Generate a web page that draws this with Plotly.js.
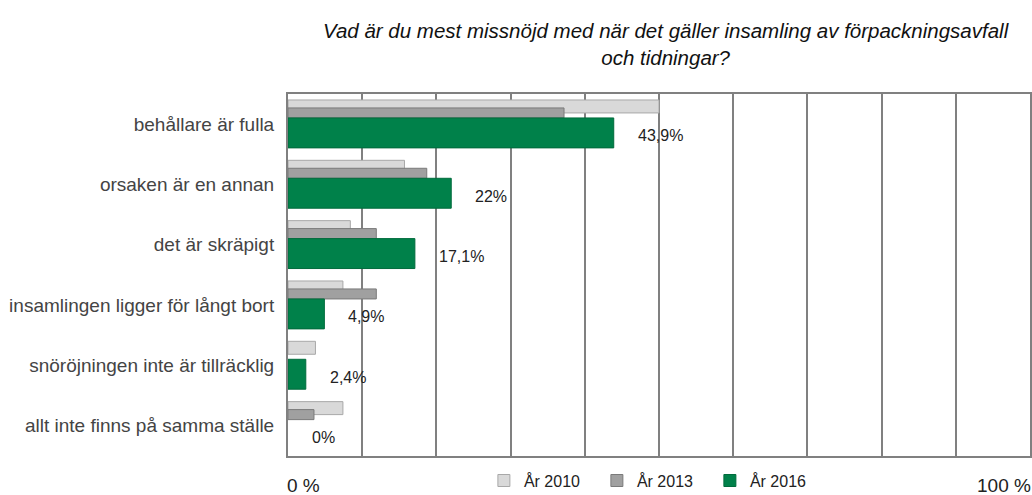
<!DOCTYPE html>
<html>
<head>
<meta charset="utf-8">
<script src="https://cdn.plot.ly/plotly-3.0.1.min.js"></script>
<style>html,body{margin:0;padding:0;background:#fff;}#chart{width:1032px;height:495px;}</style>
</head>
<body>
<div id="chart"></div>
<script>
const categories = [
  "behållare är fulla",
  "orsaken är en annan",
  "det är skräpigt",
  "insamlingen ligger för långt bort",
  "snöröjningen inte är tillräcklig",
  "allt inte finns på samma ställe"
];
const values2010 = [50, 15.7, 8.4, 7.4, 3.7, 7.4];
const values2013 = [37.2, 18.7, 11.9, 11.9, 0, 3.5];
const values2016 = [43.9, 22, 17.1, 4.9, 2.4, 0];
const labels2016 = ["43,9%", "22%", "17,1%", "4,9%", "2,4%", "0%"];
const seriesNames = ["År 2010", "År 2013", "År 2016"];
const axisEndLabels = ["0 %", "100 %"];
const titleText = "Vad är du mest missnöjd med när det gäller insamling av förpackningsavfall<br>och tidningar?";

const idx = categories.map((_, i) => i);
const FONT = "Liberation Sans, Arial, sans-serif";

const geom = [
  {offset: -0.401, width: 0.215, fill: "#d9d9d9", line: "#a8a8a8"},
  {offset: -0.269, width: 0.166, fill: "#a0a0a0", line: "#7a7a7a"},
  {offset: -0.103, width: 0.496, fill: "#00814a", line: "#006b3c"}
];
const allVals = [values2010, values2013, values2016];

const traces = allVals.map((vals, k) => ({
  type: "bar",
  orientation: "h",
  name: seriesNames[k],
  x: vals,
  y: idx,
  offset: geom[k].offset,
  width: geom[k].width,
  marker: {color: geom[k].fill,
           line: {color: geom[k].line, width: vals.map(v => (v > 0 ? 1 : 0))}},
  hoverinfo: "x+name"
}));

const annotations = values2016.map((v, i) => ({
  x: v, y: i + geom[2].offset + geom[2].width / 2,
  xref: "x", yref: "y",
  text: labels2016[i],
  showarrow: false, xanchor: "left", yanchor: "middle",
  xshift: 22, yshift: -3,
  font: {family: FONT, size: 16, color: "#222"}
}));
annotations.push(
  {x: 0, y: 0, xref: "paper", yref: "paper", yshift: -29, text: axisEndLabels[0], showarrow: false,
   xanchor: "left", yanchor: "middle", xshift: -3, font: {family: FONT, size: 19, color: "#222"}},
  {x: 1, y: 0, xref: "paper", yref: "paper", yshift: -29, text: axisEndLabels[1], showarrow: false,
   xanchor: "right", yanchor: "middle", xshift: 3, font: {family: FONT, size: 19, color: "#222"}}
);

const layout = {
  width: 1032, height: 495,
  margin: {l: 288, r: 2, t: 94, b: 39, autoexpand: false},
  paper_bgcolor: "#fff", plot_bgcolor: "#fff",
  barmode: "overlay",
  showlegend: true,
  legend: {orientation: "h", x: 0.264, xanchor: "left", y: -0.021, yanchor: "top",
           font: {family: FONT, size: 16, color: "#222"}, itemwidth: 30, entrywidth: 68,
           traceorder: "normal"},
  title: {text: titleText, x: 0.645, xanchor: "center", y: 0.923, yanchor: "top",
          font: {family: FONT, size: 20.5, color: "#111", style: "italic"}},
  xaxis: {range: [0, 100], dtick: 10, tick0: 0, showticklabels: false, ticks: "",
          showgrid: true, gridcolor: "#808080", gridwidth: 2, zeroline: false,
          showline: true, linecolor: "#808080", linewidth: 2, mirror: true, fixedrange: true},
  yaxis: {range: [5.5, -0.5], tickvals: idx, ticktext: categories, ticks: "",
          ticklabelstandoff: 8,
          tickfont: {family: FONT, size: 19, color: "#444"}, showgrid: false, zeroline: false,
          showline: true, linecolor: "#808080", linewidth: 2, mirror: true, fixedrange: true},
  annotations: annotations
};

Plotly.newPlot("chart", traces, layout, {displayModeBar: false, staticPlot: true});
</script>
</body>
</html>
